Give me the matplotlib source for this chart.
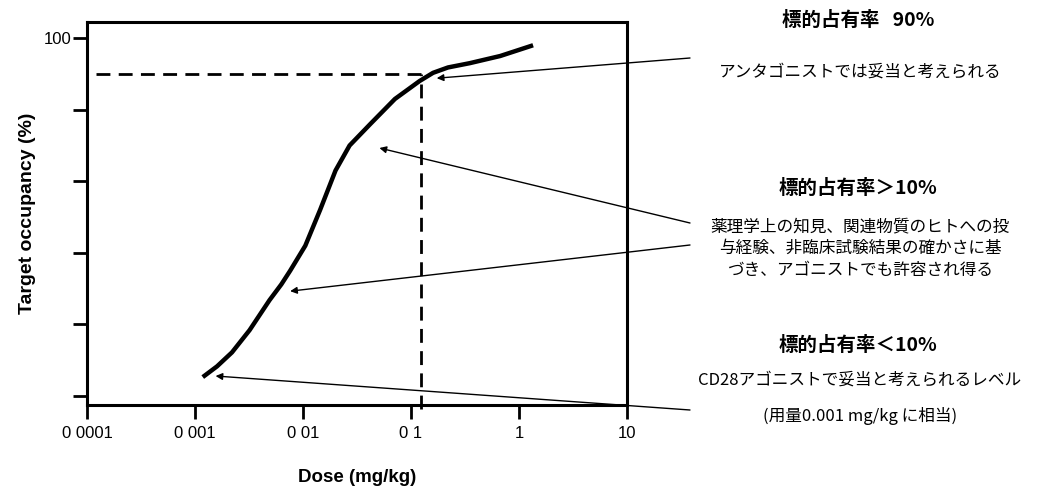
import matplotlib
matplotlib.use('Agg')
import matplotlib.pyplot as plt
import numpy as np

plt.rcParams['font.family'] = ['Liberation Sans', 'Noto Sans CJK JP', 'DejaVu Sans']

# dose-occupancy curve
dose      = [0.00118, 0.0016, 0.0022, 0.0032, 0.0049, 0.0063, 0.0076, 0.0105, 0.0144,
             0.020, 0.027, 0.042, 0.071, 0.12, 0.16, 0.22, 0.35, 0.67, 1.35]
occupancy = [5.3, 8.3, 12.2, 18.4, 26.8, 31.2, 35, 42, 52,
             63, 70, 76, 83, 88, 90.3, 91.8, 93, 95, 98]

ref_dose, ref_occ = 0.125, 90

x_ticks  = [1e-4, 1e-3, 1e-2, 1e-1, 1, 10]
x_labels = ['0 0001', '0 001', '0 01', '0 1', '1', '10']
y_ticks  = [0, 20, 40, 60, 80, 100]
y_labels = ['', '', '', '', '', '100']

# arrow heads on the curve (data) and tails (figure pixels)
arrow_heads = [(0.173, 88.8), (0.051, 69.3), (0.0076, 29.3), (0.00155, 5.6)]
arrow_tails = [(690, 441), (690, 276), (690, 254), (690, 89)]

titles = ['標的占有率   90%', '標的占有率＞10%', '標的占有率＜10%']
notes  = [
    ['アンタゴニストでは妥当と考えられる'],
    ['薬理学上の知見、関連物質のヒトへの投', '与経験、非臨床試験結果の確かさに基', 'づき、アゴニストでも許容され得る'],
    ['CD28アゴニストで妥当と考えられるレベル', '(用量0.001 mg/kg に相当)'],
]

W, H = 1037, 499
fig = plt.figure(figsize=(W / 100, H / 100), dpi=100)
ax  = fig.add_axes([87 / W, 1 - 405 / H, 540 / W, 383 / H])

ax.plot(dose, occupancy, color='black', linewidth=3.2, solid_capstyle='butt')
ax.plot([1.2e-4, ref_dose], [ref_occ, ref_occ], color='black', linewidth=2, linestyle=(0, (5, 3)))
ax.plot([ref_dose, ref_dose], [-3.5, ref_occ], color='black', linewidth=2, linestyle=(0, (5, 3)),
        clip_on=False)

ax.set_xscale('log')
ax.set_xlim(1e-4, 10)
ax.set_ylim(-2.5, 104.5)
ax.set_xticks(x_ticks)
ax.set_xticklabels(x_labels)
ax.minorticks_off()
ax.set_yticks(y_ticks)
ax.set_yticklabels(y_labels)
ax.tick_params(axis='both', direction='out', length=10, width=2, labelsize=12)
ax.tick_params(axis='x', pad=5)
ax.tick_params(axis='y', pad=1)
for s in ax.spines.values():
    s.set_linewidth(2.2)

ax.set_xlabel('Dose (mg/kg)', fontsize=13.5, fontweight='bold', labelpad=20)
ax.set_ylabel('Target occupancy (%)', fontsize=14, fontweight='bold', labelpad=6)

for (hx, hy), (tx, ty) in zip(arrow_heads, arrow_tails):
    ax.annotate('', xy=(hx, hy), xycoords='data', xytext=(tx, ty), textcoords='figure pixels',
                annotation_clip=False,
                arrowprops=dict(arrowstyle='-|>', color='black', lw=1.0, mutation_scale=10,
                                shrinkA=0, shrinkB=0))

jp = ['Noto Sans CJK JP', 'DejaVu Sans']
title_y = [H - 20, H - 188, H - 345]
note_y  = [[H - 72], [H - 227, H - 248, H - 270], [H - 380, H - 416]]
for t, ty, lines, ly in zip(titles, title_y, notes, note_y):
    fig.text(858 / W, ty / H, t, family=jp, fontsize=14, fontweight='bold', ha='center', va='center')
    for line, yy in zip(lines, ly):
        fig.text(860 / W, yy / H, line, family=jp, fontsize=12, ha='center', va='center')

fig.savefig('out.png', dpi=100)
